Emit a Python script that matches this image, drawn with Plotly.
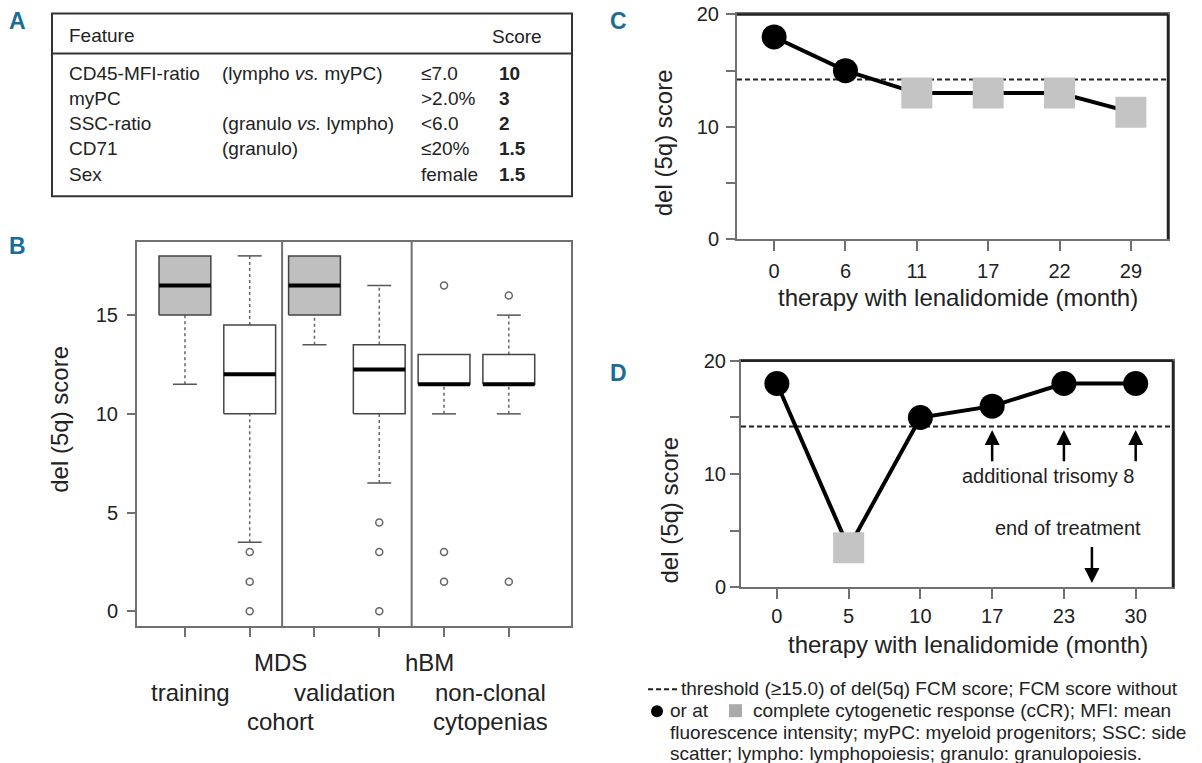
import plotly.graph_objects as go

W, H = 1202, 763
FONT = "Liberation Sans, Arial, sans-serif"
BLUE = "#1a6d98"
GRAY_FILL = "#bfbfbf"
AX = "#707070"

# ---------------- Panel A : score table ----------------
table_header = ["Feature", "Score"]
table_features = ["CD45-MFI-ratio", "myPC", "SSC-ratio", "CD71", "Sex"]
table_populations = ["(lympho <i>vs.</i> myPC)", "", "(granulo <i>vs.</i> lympho)", "(granulo)", ""]
table_cutoffs = ["≤7.0", ">2.0%", "<6.0", "≤20%", "female"]
table_scores = ["10", "3", "2", "1.5", "1.5"]

# ---------------- Panel B : boxplots ----------------
box_positions = [1, 2, 3, 4, 5, 6]
box_q1 = [15.0, 10.0, 15.0, 10.0, 11.5, 11.5]
box_median = [16.5, 12.0, 16.5, 12.25, 11.5, 11.5]
box_q3 = [18.0, 14.5, 18.0, 13.5, 13.0, 13.0]
box_lower = [11.5, 3.5, 13.5, 6.5, 10.0, 10.0]
box_upper = [18.0, 18.0, 18.0, 16.5, 13.0, 15.0]
box_del5q = [True, False, True, False, False, False]
box_outliers = [[], [3.0, 1.5, 0.0], [], [4.5, 3.0, 0.0], [16.5, 3.0, 1.5], [16.0, 1.5]]
b_labels = ["MDS", "training", "validation", "cohort", "hBM", "non-clonal", "cytopenias"]
b_yticks = [0, 5, 10, 15]

# ---------------- Panel C ----------------
c_months = ["0", "6", "11", "17", "22", "29"]
c_scores = [18.0, 15.0, 13.0, 13.0, 13.0, 11.3]
c_ccr = [False, False, True, True, True, True]

# ---------------- Panel D ----------------
d_months = ["0", "5", "10", "17", "23", "30"]
d_scores = [18.0, 3.5, 15.0, 16.0, 18.0, 18.0]
d_ccr = [False, True, False, False, False, False]
d_trisomy_idx = [3, 4, 5]
d_end_of_treatment = 4.39

threshold = 14.2
cd_yticks = [0, 5, 10, 15, 20]
cd_yticktext = ["0", "", "10", "", "20"]

legend_lines = [
    "threshold (≥15.0) of del(5q) FCM score; FCM score without",
    "or at",
    "complete cytogenetic response (cCR); MFI: mean",
    "fluorescence intensity; myPC: myeloid progenitors; SSC: side",
    "scatter; lympho: lymphopoiesis; granulo: granulopoiesis.",
]

# layout helpers: reference pixel -> paper fraction (vertical compensation for page capture)
OY, SY = 10.5, 0.973


def px(x):
    return x / W


def py(y):
    return 1 - ((y - OY) / SY) / H


fig = go.Figure()
annotations = []
shapes = []

# ---------- Panel B traces ----------
HW = 0.4
CAP = 0.185
for i, p in enumerate(box_positions):
    q1, m, q3 = box_q1[i], box_median[i], box_q3[i]
    lo, hi = box_lower[i], box_upper[i]
    if lo < q1:
        fig.add_trace(go.Scatter(x=[p, p], y=[lo, q1], mode="lines",
                                 line=dict(color="#666", width=1.5, dash="dot"),
                                 xaxis="x", yaxis="y", hoverinfo="skip"))
        fig.add_trace(go.Scatter(x=[p - CAP, p + CAP], y=[lo, lo], mode="lines",
                                 line=dict(color="#555", width=1.5),
                                 xaxis="x", yaxis="y", hoverinfo="skip"))
    if hi > q3:
        fig.add_trace(go.Scatter(x=[p, p], y=[q3, hi], mode="lines",
                                 line=dict(color="#666", width=1.5, dash="dot"),
                                 xaxis="x", yaxis="y", hoverinfo="skip"))
        fig.add_trace(go.Scatter(x=[p - CAP, p + CAP], y=[hi, hi], mode="lines",
                                 line=dict(color="#555", width=1.5),
                                 xaxis="x", yaxis="y", hoverinfo="skip"))
    fig.add_trace(go.Scatter(x=[p - HW, p + HW, p + HW, p - HW, p - HW],
                             y=[q1, q1, q3, q3, q1], mode="lines", fill="toself",
                             fillcolor=GRAY_FILL if box_del5q[i] else "white",
                             line=dict(color="#444", width=1.5),
                             xaxis="x", yaxis="y", hoverinfo="skip"))
    fig.add_trace(go.Scatter(x=[p - HW, p + HW], y=[m, m], mode="lines",
                             line=dict(color="black", width=4),
                             xaxis="x", yaxis="y", hoverinfo="skip"))
    if box_outliers[i]:
        fig.add_trace(go.Scatter(x=[p] * len(box_outliers[i]), y=box_outliers[i],
                                 mode="markers",
                                 marker=dict(symbol="circle-open", size=7,
                                             color="#666", line=dict(width=1.5)),
                                 xaxis="x", yaxis="y", hoverinfo="skip"))

for sep in [2.5, 4.5]:
    shapes.append(dict(type="line", xref="x", yref="y domain", x0=sep, x1=sep,
                       y0=0, y1=1, line=dict(color=AX, width=2)))

# B category labels (x in data units, rows in pixels)
b_label_x = [2.47, 1.08, 3.47, 2.47, 4.78, 5.72, 5.72]
b_label_row = [663, 693, 693, 722, 663, 693, 722]
for t, xx, yy in zip(b_labels, b_label_x, b_label_row):
    annotations.append(dict(text=t, x=xx, y=py(yy), xref="x", yref="paper",
                            showarrow=False, xanchor="center", yanchor="middle",
                            font=dict(size=24, color="#222", family=FONT)))


# ---------- Panels C & D ----------
def add_course(scores, ccr, xa, ya):
    xs = list(range(len(scores)))
    fig.add_trace(go.Scatter(x=xs, y=scores, mode="lines",
                             line=dict(color="black", width=4),
                             xaxis=xa, yaxis=ya, hoverinfo="skip"))
    fig.add_trace(go.Scatter(x=[xx for xx, c in zip(xs, ccr) if not c],
                             y=[s for s, c in zip(scores, ccr) if not c],
                             mode="markers",
                             marker=dict(symbol="circle", size=25, color="black"),
                             xaxis=xa, yaxis=ya, hoverinfo="skip"))
    fig.add_trace(go.Scatter(x=[xx for xx, c in zip(xs, ccr) if c],
                             y=[s for s, c in zip(scores, ccr) if c],
                             mode="markers",
                             marker=dict(symbol="square", size=31, color="#c4c4c4"),
                             xaxis=xa, yaxis=ya, hoverinfo="skip"))
    shapes.append(dict(type="line", xref=f"{xa} domain", yref=ya, x0=0, x1=1,
                       y0=threshold, y1=threshold,
                       line=dict(color="#222", width=2, dash="5px,3px"), layer="below"))
    # dark top and right frame edges
    shapes.append(dict(type="line", xref=f"{xa} domain", yref=f"{ya} domain",
                       x0=0, x1=1, y0=1, y1=1, line=dict(color="#222", width=2.5)))
    shapes.append(dict(type="line", xref=f"{xa} domain", yref=f"{ya} domain",
                       x0=1, x1=1, y0=0, y1=1, line=dict(color="#222", width=2.5)))


add_course(c_scores, c_ccr, "x2", "y2")
add_course(d_scores, d_ccr, "x3", "y3")

# trisomy arrows
for idx in d_trisomy_idx:
    annotations.append(dict(x=idx, y=threshold - 0.3, ax=idx, ay=11.0,
                            xref="x3", yref="y3", axref="x3", ayref="y3",
                            showarrow=True, arrowhead=2, arrowsize=1.2, arrowwidth=2.5,
                            arrowcolor="black", text=""))
annotations.append(dict(text="additional trisomy 8", x=3.78, y=9.8, xref="x3", yref="y3",
                        showarrow=False, font=dict(size=20, color="#222", family=FONT)))
annotations.append(dict(text="end of treatment", x=d_end_of_treatment - 0.33, y=5.2,
                        xref="x3", yref="y3", showarrow=False,
                        font=dict(size=20, color="#222", family=FONT)))
annotations.append(dict(x=d_end_of_treatment, y=0.4, ax=d_end_of_treatment, ay=3.7,
                        xref="x3", yref="y3", axref="x3", ayref="y3",
                        showarrow=True, arrowhead=2, arrowsize=1.2, arrowwidth=2.5,
                        arrowcolor="black", text=""))

# ---------- Panel A table ----------
shapes.append(dict(type="rect", xref="paper", yref="paper", x0=px(52), x1=px(572),
                   y0=py(196), y1=py(13), line=dict(color="#333", width=2)))
shapes.append(dict(type="line", xref="paper", yref="paper", x0=px(52), x1=px(572),
                   y0=py(53), y1=py(53), line=dict(color="#333", width=2)))
tf = dict(size=19, color="#222", family=FONT)
annotations.append(dict(text=table_header[0], x=px(67), y=py(35), xref="paper", yref="paper",
                        showarrow=False, xanchor="left", yanchor="middle", font=tf))
annotations.append(dict(text=table_header[1], x=px(490), y=py(36), xref="paper", yref="paper",
                        showarrow=False, xanchor="left", yanchor="middle", font=tf))
row_y = [73, 98, 123, 148, 174]
for i in range(len(table_features)):
    yy = py(row_y[i])
    annotations.append(dict(text=table_features[i], x=px(67), y=yy, xref="paper", yref="paper",
                            showarrow=False, xanchor="left", yanchor="middle", font=tf))
    if table_populations[i]:
        annotations.append(dict(text=table_populations[i], x=px(220), y=yy, xref="paper",
                                yref="paper", showarrow=False, xanchor="left",
                                yanchor="middle", font=tf))
    annotations.append(dict(text=table_cutoffs[i], x=px(419), y=yy, xref="paper", yref="paper",
                            showarrow=False, xanchor="left", yanchor="middle", font=tf))
    annotations.append(dict(text=f"<b>{table_scores[i]}</b>", x=px(497), y=yy, xref="paper",
                            yref="paper", showarrow=False, xanchor="left", yanchor="middle",
                            font=tf))

# ---------- panel letters ----------
for letter, lx, ly in [("A", 17, 21), ("B", 17, 246), ("C", 618, 21), ("D", 618, 373)]:
    annotations.append(dict(text=f"<b>{letter}</b>", x=px(lx), y=py(ly), xref="paper",
                            yref="paper", showarrow=False, xanchor="center", yanchor="middle",
                            font=dict(size=23, color=BLUE, family=FONT)))

# ---------- axis titles ----------
ytf = dict(size=24, color="#222", family=FONT)
for (xx, yy) in [(60, 420), (663, 143), (670, 510)]:
    annotations.append(dict(text="del (5q) score", x=px(xx), y=py(yy), xref="paper",
                            yref="paper", showarrow=False, textangle=-90,
                            xanchor="center", yanchor="middle", font=ytf))
for (xx, yy) in [(958, 298), (968, 645)]:
    annotations.append(dict(text="therapy with lenalidomide (month)", x=px(xx), y=py(yy),
                            xref="paper", yref="paper", showarrow=False,
                            xanchor="center", yanchor="middle",
                            font=dict(size=24, color="#222", family=FONT)))

# ---------- legend text ----------
lf = dict(size=19, color="#222", family=FONT)
shapes.append(dict(type="line", xref="paper", yref="paper", x0=px(648), x1=px(677),
                   y0=py(690), y1=py(690), line=dict(color="#222", width=2, dash="5px,3px")))
annotations.append(dict(text=legend_lines[0], x=px(679), y=py(689), xref="paper", yref="paper",
                        showarrow=False, xanchor="left", yanchor="middle", font=lf))
shapes.append(dict(type="circle", xref="paper", yref="paper", x0=px(651), x1=px(663),
                   y0=py(718), y1=py(706), fillcolor="black", line=dict(width=0)))
annotations.append(dict(text=legend_lines[1], x=px(668), y=py(711), xref="paper", yref="paper",
                        showarrow=False, xanchor="left", yanchor="middle", font=lf))
shapes.append(dict(type="rect", xref="paper", yref="paper", x0=px(729), x1=px(742),
                   y0=py(718), y1=py(705), fillcolor="#aaaaaa", line=dict(width=0)))
annotations.append(dict(text=legend_lines[2], x=px(751), y=py(711), xref="paper", yref="paper",
                        showarrow=False, xanchor="left", yanchor="middle", font=lf))
annotations.append(dict(text=legend_lines[3], x=px(668), y=py(733), xref="paper", yref="paper",
                        showarrow=False, xanchor="left", yanchor="middle", font=lf))
annotations.append(dict(text=legend_lines[4], x=px(668), y=py(754), xref="paper", yref="paper",
                        showarrow=False, xanchor="left", yanchor="middle", font=lf))

tickf = dict(size=20, color="#222", family=FONT)
fig.update_layout(
    width=W, height=H, margin=dict(l=0, r=0, t=0, b=0),
    paper_bgcolor="white", plot_bgcolor="white", showlegend=False,
    font=dict(family=FONT),
    xaxis=dict(domain=[px(137), px(571)], range=[0.26, 6.96], tickvals=box_positions,
               ticktext=[""] * 6, ticks="outside", ticklen=9, tickcolor=AX, tickwidth=1.5,
               showline=True, linecolor=AX, linewidth=2, mirror=True, showgrid=False,
               zeroline=False, anchor="y"),
    yaxis=dict(domain=[py(627), py(242)], range=[-0.76, 18.7], tickvals=b_yticks,
               ticks="outside", ticklen=8, tickcolor=AX, tickwidth=1.5, tickfont=tickf,
               ticklabelstandoff=5,
               showline=True, linecolor=AX, linewidth=2, mirror=True, showgrid=False,
               zeroline=False, anchor="x"),
    xaxis2=dict(domain=[px(737), px(1168)], range=[-0.52, 5.52],
                tickvals=list(range(len(c_months))), ticktext=c_months,
                ticks="outside", ticklen=10, tickcolor=AX, tickwidth=1.5, tickfont=tickf,
                ticklabelstandoff=3,
                showline=True, linecolor=AX, linewidth=2, mirror=True, showgrid=False,
                zeroline=False, anchor="y2"),
    yaxis2=dict(domain=[py(239), py(14)], range=[0, 20], tickvals=cd_yticks,
                ticktext=cd_yticktext, ticks="outside", ticklen=9, tickcolor=AX,
                tickwidth=1.5, tickfont=tickf, ticklabelstandoff=3,
                showline=True, linecolor=AX, linewidth=2, mirror=True, showgrid=False,
                zeroline=False, anchor="x2"),
    xaxis3=dict(domain=[px(741), px(1173)], range=[-0.5, 5.52],
                tickvals=list(range(len(d_months))), ticktext=d_months,
                ticks="outside", ticklen=10, tickcolor=AX, tickwidth=1.5, tickfont=tickf,
                ticklabelstandoff=0,
                showline=True, linecolor=AX, linewidth=2, mirror=True, showgrid=False,
                zeroline=False, anchor="y3"),
    yaxis3=dict(domain=[py(588), py(361)], range=[0, 20], tickvals=cd_yticks,
                ticktext=cd_yticktext, ticks="outside", ticklen=9, tickcolor=AX,
                tickwidth=1.5, tickfont=tickf,
                showline=True, linecolor=AX, linewidth=2, mirror=True, showgrid=False,
                zeroline=False, anchor="x3"),
    annotations=annotations,
    shapes=shapes,
)

fig.write_html(
    "out.html",
    config={"displayModeBar": False},
    post_script=(
        "document.body.style.margin='0';document.body.style.padding='0';"
        "document.documentElement.style.overflow='hidden';"
    ),
)
